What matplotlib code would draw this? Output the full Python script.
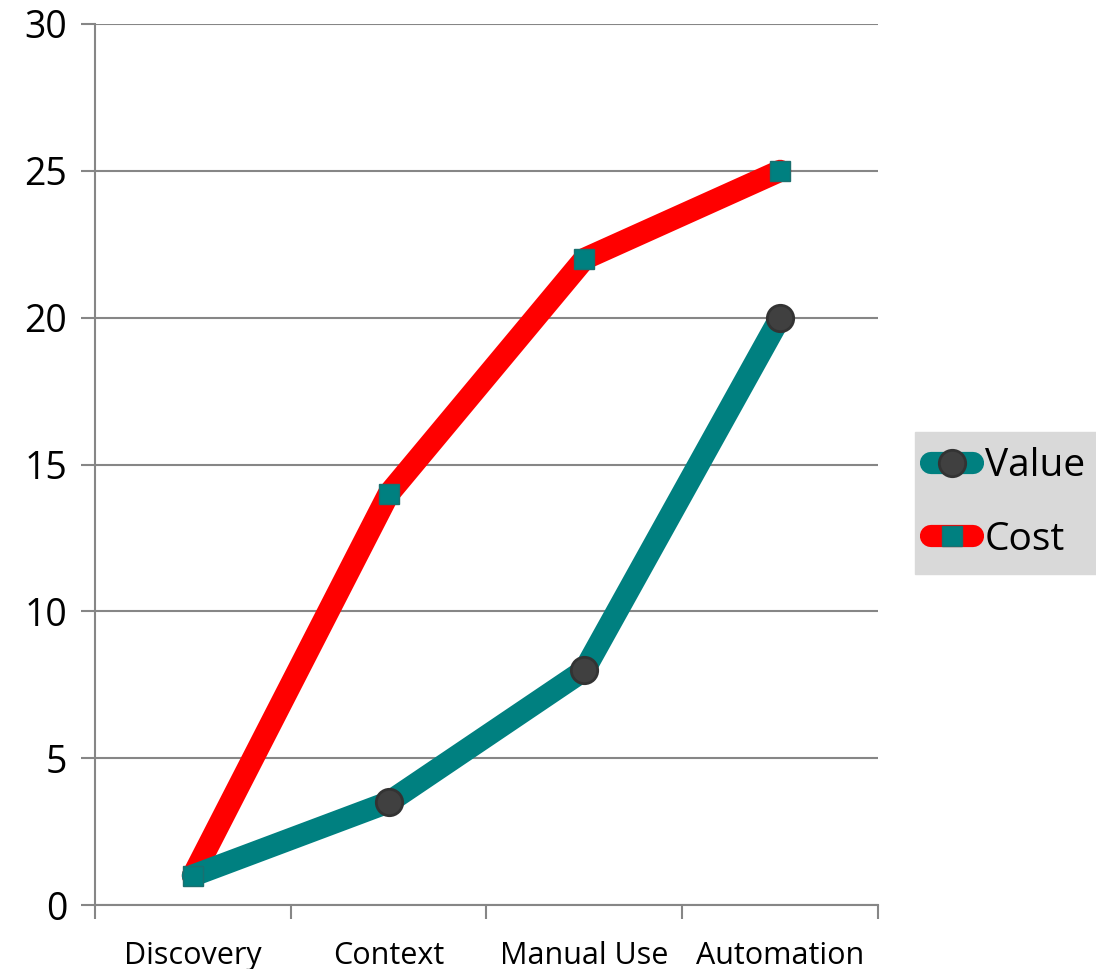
import matplotlib.pyplot as plt
from matplotlib.ticker import FixedLocator, NullFormatter

plt.rcParams['font.family'] = ['Open Sans', 'DejaVu Sans']

categories = ['Discovery', 'Context', 'Manual Use', 'Automation']
value = [1, 3.5, 8, 20]
cost = [1, 14, 22, 25]

TEAL = '#008080'
RED = '#FF0000'

fig = plt.figure(figsize=(10.96, 9.69), dpi=100)
ax = fig.add_axes([95 / 1096, 1 - 905 / 969, (878 - 95) / 1096, (905 - 24) / 969])

x = list(range(len(categories)))
# first value marker sits under the cost marker in the original
ax.plot(x, value, color=TEAL, linewidth=16, solid_capstyle='round', solid_joinstyle='miter', zorder=3)
ax.plot(x, value, linestyle='none', marker='o', markersize=19, markevery=[1, 2, 3],
        markerfacecolor='#404040', markeredgecolor='#333333', markeredgewidth=2, zorder=4)
ax.plot(x, cost, color=RED, linewidth=16, solid_capstyle='round', solid_joinstyle='miter', zorder=2)
ax.plot(x, cost, linestyle='none', marker='s', markersize=14, markerfacecolor=TEAL,
        markeredgecolor='#1a7070', markeredgewidth=1, zorder=5)

ax.set_xlim(-0.5, 3.5)
ax.set_ylim(0, 30)
ax.set_yticks(range(0, 31, 5))
ax.set_xticks(x)
ax.set_xticklabels(categories, fontsize=22)
ax.xaxis.set_minor_locator(FixedLocator([-0.5, 0.5, 1.5, 2.5, 3.5]))
ax.xaxis.set_minor_formatter(NullFormatter())
ax.tick_params(axis='x', which='major', length=0, pad=26)
ax.tick_params(axis='x', which='minor', length=10, width=1.5, color='#868686')
ax.tick_params(axis='y', length=10, width=1.5, color='#868686', labelsize=27, pad=10)

ax.grid(axis='y', color='#868686', linewidth=1.5)
ax.set_axisbelow(True)
for s in ['top', 'right']:
    ax.spines[s].set_visible(False)
for s in ['left', 'bottom']:
    ax.spines[s].set_color('#868686')
    ax.spines[s].set_linewidth(1.5)

h1, = ax.plot([], [], color=TEAL, linewidth=16, solid_capstyle='round', marker='o', markersize=19,
              markerfacecolor='#404040', markeredgecolor='#333333', markeredgewidth=2)
h2, = ax.plot([], [], color=RED, linewidth=16, solid_capstyle='round', marker='s', markersize=14,
              markerfacecolor=TEAL, markeredgecolor='#1a7070')
leg = fig.legend([h1, h2], ['Value', 'Cost'], loc='center left', bbox_to_anchor=(915 / 1096, 1 - 503 / 969),
                 fontsize=28, frameon=True, fancybox=False, handlelength=1.1, handletextpad=0.3,
                 borderpad=0.4, labelspacing=0.9, borderaxespad=0)
leg.get_frame().set_facecolor('#d9d9d9')
leg.get_frame().set_edgecolor('#d9d9d9')
leg.get_frame().set_alpha(1)

fig.savefig('out.png', dpi=100)
